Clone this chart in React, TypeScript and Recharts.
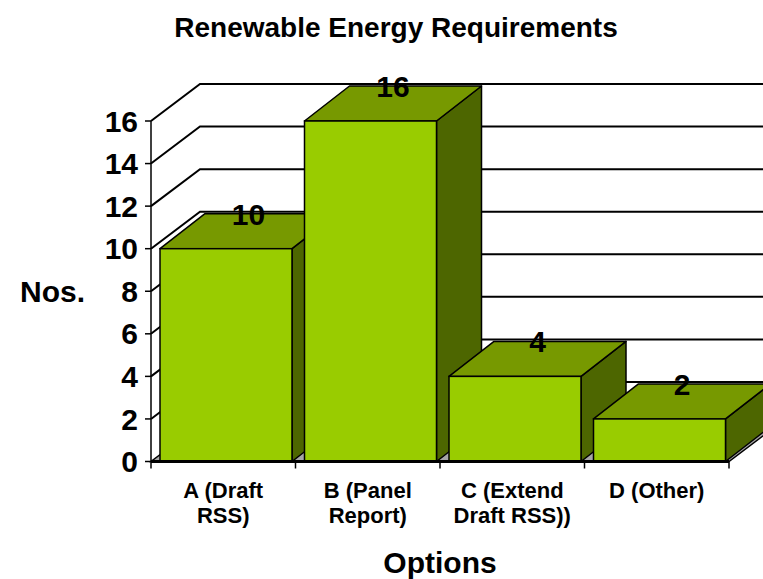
import React from 'react';
import { BarChart, Bar, XAxis, YAxis, CartesianGrid, LabelList } from 'recharts';

const categories = ['A (Draft RSS)', 'B (Panel Report)', 'C (Extend Draft RSS))', 'D (Other)'];
const categoryLines = [['A (Draft', 'RSS)'], ['B (Panel', 'Report)'], ['C (Extend', 'Draft RSS))'], ['D (Other)']];
const values = [10, 16, 4, 2];
const yTicks = [0, 2, 4, 6, 8, 10, 12, 14, 16];
const wallTicks = [2, 4, 6, 8, 10, 12, 14, 16];
const floorTicks = [0];

const data = categories.map((c, i) => ({ name: c, value: values[i], lines: categoryLines[i] }));

const FONT = '"Liberation Sans", Arial, Helvetica, sans-serif';
const WALL_DX = 49;
const WALL_DY = -37;
const BAR_DX = 45;
const BAR_DY = -35;
const BAR_SHIFT = 3;
const FRONT = '#99CC00';
const TOP = '#779900';
const SIDE = '#4D6600';

const Bar3D = (p: any) => {
  const { x, y, width: w, height: h } = p;
  if (w == null || h == null) return null;
  const x0 = x + BAR_SHIFT;
  const top = `${x0},${y} ${x0 + BAR_DX},${y + BAR_DY} ${x0 + w + BAR_DX},${y + BAR_DY} ${x0 + w},${y}`;
  const side = `${x0 + w},${y} ${x0 + w + BAR_DX},${y + BAR_DY} ${x0 + w + BAR_DX},${y + h + BAR_DY} ${x0 + w},${y + h}`;
  return (
    <g>
      <polygon points={side} fill={SIDE} stroke="#000" strokeWidth={1.5} strokeLinejoin="round" />
      <polygon points={top} fill={TOP} stroke="#000" strokeWidth={1.5} strokeLinejoin="round" />
      <rect x={x0} y={y} width={w} height={h} fill={FRONT} stroke="#000" strokeWidth={1.5} />
    </g>
  );
};

const wallLine = (p: any) => {
  const { x1, x2, y1 } = p;
  return (
    <path
      key={p.key}
      d={`M${x1},${y1} L${x1 + WALL_DX},${y1 + WALL_DY} L${x2 + WALL_DX},${y1 + WALL_DY}`}
      fill="none"
      stroke="#000"
      strokeWidth={2}
    />
  );
};

const floorLine = (p: any) => {
  const { x1, x2, y1 } = p;
  const n = categories.length;
  const step = (x2 - x1) / n;
  const marks = [];
  for (let i = 0; i <= n; i++) {
    marks.push(<line key={i} x1={x1 + i * step} y1={y1} x2={x1 + i * step} y2={y1 + 7} stroke="#000" strokeWidth={1.5} />);
  }
  return (
    <g key={p.key}>
      <polygon
        points={`${x1},${y1} ${x2},${y1} ${x2 + WALL_DX},${y1 + WALL_DY} ${x1 + WALL_DX},${y1 + WALL_DY}`}
        fill="#a6a6a6"
        stroke="#000"
        strokeWidth={1.5}
      />
      {marks}
    </g>
  );
};

const CatTick = (p: any) => {
  const { x, y, payload } = p;
  const idx = categories.indexOf(payload.value);
  const lines = idx >= 0 ? categoryLines[idx] : [String(payload.value)];
  return (
    <g>
      {lines.map((l, i) => (
        <text
          key={i}
          x={x}
          y={y + 36 + i * 25}
          textAnchor="middle"
          fill="#000"
          fontSize={22}
          fontWeight="bold"
          fontFamily={FONT}
        >
          {l}
        </text>
      ))}
    </g>
  );
};

const ValueLabel = (p: any) => {
  const { x, y, width, value } = p;
  return (
    <text
      x={x + width / 2 + BAR_SHIFT + BAR_DX / 2}
      y={y - 24}
      textAnchor="middle"
      fill="#000"
      fontSize={30}
      fontWeight="bold"
      fontFamily={FONT}
    >
      {value}
    </text>
  );
};

export default function App() {
  return (
    <div style={{ position: 'absolute', left: 0, top: 0, width: 763, height: 579, background: '#fff' }}>
      <BarChart
        width={763}
        height={579}
        data={data}
        margin={{ top: 121, right: 34, left: 91, bottom: 0 }}
      >
        <CartesianGrid
          horizontalValues={floorTicks}
          vertical={false}
          horizontal={floorLine as any}
        />
        <CartesianGrid
          horizontalValues={wallTicks}
          vertical={false}
          horizontal={wallLine as any}
        />
        <XAxis
          dataKey="name"
          height={117.5}
          axisLine={{ stroke: '#000', strokeWidth: 3 }}
          tickLine={false}
          tickSize={0}
          tickMargin={0}
          interval={0}
          tick={<CatTick />}
          label={{ value: 'Options', position: 'insideBottom', offset: 6, fill: '#000', fontSize: 30, fontWeight: 'bold', fontFamily: FONT }}
        />
        <YAxis
          type="number"
          domain={[0, 16]}
          ticks={yTicks}
          interval={0}
          width={60}
          axisLine={{ stroke: '#000', strokeWidth: 1.5 }}
          tickLine={{ stroke: '#000', strokeWidth: 1.5 }}
          tickSize={6}
          tickMargin={7}
          tick={{ fill: '#000', fontSize: 30, fontWeight: 'bold', fontFamily: FONT }}
          label={{ value: 'Nos.', position: 'left', offset: 6, fill: '#000', fontSize: 30, fontWeight: 'bold', fontFamily: FONT }}
        />
        <Bar dataKey="value" barSize={132} shape={Bar3D} isAnimationActive={false}>
          <LabelList dataKey="value" content={ValueLabel} />
        </Bar>
      </BarChart>
      <svg width={763} height={60} style={{ position: 'absolute', left: 0, top: 0, pointerEvents: 'none' }}>
        <text x={396} y={37} textAnchor="middle" fill="#000" fontSize={28} fontWeight="bold" fontFamily={FONT}>
          Renewable Energy Requirements
        </text>
      </svg>
    </div>
  );
}
